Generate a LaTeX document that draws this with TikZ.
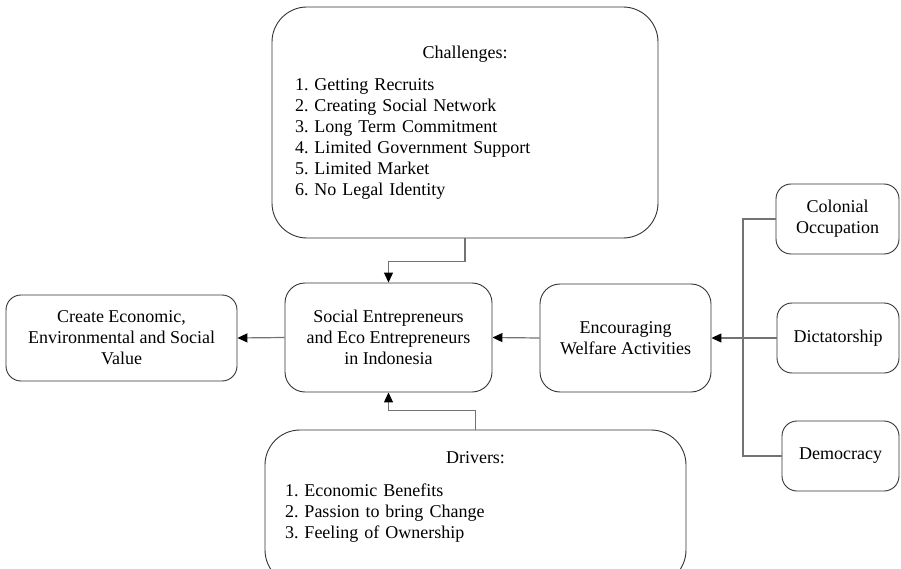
\documentclass[tikz,border=0pt]{standalone}
\usepackage{fontspec}
\setmainfont{Liberation Serif}
\usepackage{tikz}
\usetikzlibrary{positioning,arrows.meta}

\begin{document}
\begin{tikzpicture}[
  x=1pt, y=-1pt,
  % one size of type for every box; lines sit 21pt apart as in the figure
  box/.style={draw=black!80, line width=0.9pt, rounded corners=15pt, align=center,
              font=\fontsize{18}{21}\selectfont\frenchspacing, inner sep=2pt},
  bigbox/.style={box, rounded corners=35pt, inner ysep=0pt, align=left},
  link/.style={draw=black!55, line width=1.2pt},
  arr/.style={link, -{Triangle[length=10pt, width=9pt, color=black]}}
]
\useasboundingbox (0,0) rectangle (901,569);

\node[bigbox, minimum height=231pt, text width=340pt, inner xsep=23pt] (chal) at (465,122.5)
  {\makebox[\linewidth]{Challenges:}\\[11pt]
   1. Getting Recruits\\ 2. Creating Social Network\\ 3. Long Term Commitment\\
   4. Limited Government Support\\ 5. Limited Market\\ 6. No Legal Identity};
\node[box, rounded corners=20pt, minimum width=207pt, minimum height=109pt] (soc) at (388.5,337.5)
  {Social Entrepreneurs\\ and Eco Entrepreneurs\\ in Indonesia};
\node[box, minimum width=231pt, minimum height=86pt] (cre) at (121.5,338)
  {Create Economic,\\ Environmental and Social\\ Value};
\node[box, rounded corners=20pt, minimum width=171pt, minimum height=108pt] (enc) at (625.5,338)
  {Encouraging\\ Welfare Activities};
\node[bigbox, minimum height=155pt, text width=381pt, inner xsep=20pt] (drv) at (475.5,507.5)
  {\makebox[\linewidth]{Drivers:}\\[12pt]
   1. Economic Benefits\\ 2. Passion to bring Change\\ 3. Feeling of Ownership\\[4pt]\mbox{}};
\node[box, minimum width=123pt, minimum height=70pt] (col) at (837.5,219) {Colonial\\ Occupation};
\node[box, minimum width=122pt, minimum height=70pt] (dic) at (838,338) {Dictatorship};
\node[box, minimum width=117pt, minimum height=70pt] (dem) at (840.5,456) {Democracy};

% the three regimes meet on one bus before the arrow
\coordinate (bus) at (743,338);
\draw[link] (col.west) -| (bus);
\draw[link] (dem.west) -| (bus);
\draw[link] (dic.west) -- (bus);
\draw[arr] (bus) -- (enc.east);

\draw[arr] (chal.south) -- ++(0,23) -| (soc.north);
\draw[arr] (drv.north) -- ++(0,-19) -| (soc.south);
\foreach \a/\b in {enc/soc, soc/cre}
  \draw[arr] (\a.west) -- (\b.east);
\end{tikzpicture}
\end{document}
